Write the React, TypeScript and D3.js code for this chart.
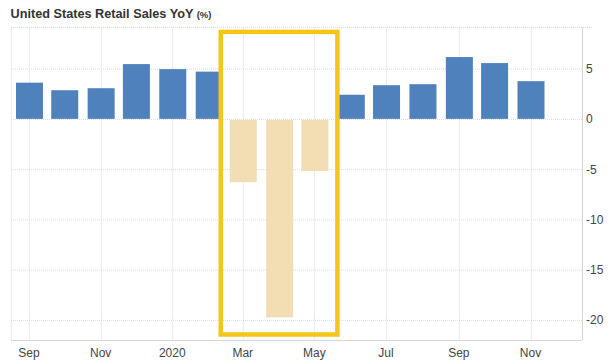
import React, { useEffect, useRef } from 'react';
import * as d3 from 'd3';

// months Sep 2019 .. Nov 2020
const months: string[] = [
    '2019-09', '2019-10', '2019-11', '2019-12', '2020-01', '2020-02', '2020-03',
    '2020-04', '2020-05', '2020-06', '2020-07', '2020-08', '2020-09', '2020-10', '2020-11'
];
const values: number[] = [3.6, 2.85, 3.05, 5.45, 4.95, 4.7, -6.3, -19.75, -5.2, 2.4, 3.35, 3.45, 6.15, 5.55, 3.75];
// highlighted (covid) months
const highlighted: string[] = ['2020-03', '2020-04', '2020-05'];
const yTicks: number[] = [5, 0, -5, -10, -15, -20];
const xTickMonths: string[] = ['2019-09', '2019-11', '2020-01', '2020-03', '2020-05', '2020-07', '2020-09', '2020-11'];
const xTickLabels: string[] = ['Sep', 'Nov', '2020', 'Mar', 'May', 'Jul', 'Sep', 'Nov'];

const parseMonth = d3.timeParse('%Y-%m');

function App() {
    const ref = useRef<SVGSVGElement>(null);

    useEffect(() => {
        const svg = d3.select(ref.current);
        svg.selectAll('*').remove();

        const left = 11, right = 582, top = 27.4, bottom = 340;
        const font = 'Arial, "Liberation Sans", Helvetica, sans-serif';

        const x = d3.scaleTime()
            .domain([parseMonth('2019-09') as Date, parseMonth('2020-11') as Date])
            .range([29, 530.5]);
        const y = d3.scaleLinear().domain([-22, 9.1]).range([bottom, top]);
        const barW = 27;

        // title
        const title = svg.append('text')
            .attr('x', 10.5).attr('y', 18)
            .attr('font-family', font).attr('font-weight', 'bold')
            .attr('font-size', 12.7).attr('fill', '#333');
        title.append('tspan').text('United States Retail Sales YoY ');
        title.append('tspan').attr('font-size', 9.5).text('(%)');

        // grid
        const grid = svg.append('g')
            .attr('stroke', '#dcdcdc').attr('stroke-dasharray', '1,1').attr('fill', 'none');
        grid.selectAll('.hg').data(yTicks).enter().append('line')
            .attr('x1', left).attr('x2', right)
            .attr('y1', d => y(d) + 0.5).attr('y2', d => y(d) + 0.5);
        grid.append('line')
            .attr('x1', left).attr('x2', 592)
            .attr('y1', top).attr('y2', top);
        grid.selectAll('.vg').data(xTickMonths).enter().append('line')
            .attr('x1', d => Math.round(x(parseMonth(d) as Date)) + 0.5)
            .attr('x2', d => Math.round(x(parseMonth(d) as Date)) + 0.5)
            .attr('y1', top).attr('y2', bottom);
        grid.append('line')
            .attr('x1', left + 0.5).attr('x2', left + 0.5)
            .attr('y1', top).attr('y2', bottom);

        // axis lines
        svg.append('line')
            .attr('x1', left).attr('x2', right)
            .attr('y1', bottom + 0.5).attr('y2', bottom + 0.5)
            .attr('stroke', '#d6d6d6');
        svg.append('line')
            .attr('x1', right + 0.5).attr('x2', right + 0.5)
            .attr('y1', top).attr('y2', bottom)
            .attr('stroke', '#d6d6d6');

        // bars
        svg.append('g').selectAll('rect')
            .data(months.map((m, i) => ({ m, v: values[i] })))
            .enter().append('rect')
            .attr('x', d => x(parseMonth(d.m) as Date) - barW / 2 + 0.5)
            .attr('width', barW)
            .attr('y', d => d.v >= 0 ? y(d.v) : y(0) + 1)
            .attr('height', d => d.v >= 0 ? y(0) - y(d.v) : y(d.v) - y(0) - 1)
            .attr('fill', d => highlighted.includes(d.m) ? '#f3deb4' : '#4f81bd');

        // y labels
        svg.append('g').selectAll('text')
            .data(yTicks).enter().append('text')
            .attr('x', 586).attr('y', d => y(d) + 4.5)
            .attr('font-family', font).attr('font-size', 12).attr('fill', '#444')
            .text(d => d);

        // x labels
        svg.append('g').selectAll('text')
            .data(xTickMonths).enter().append('text')
            .attr('x', d => x(parseMonth(d) as Date))
            .attr('y', 356.5)
            .attr('text-anchor', 'middle')
            .attr('font-family', font).attr('font-size', 12).attr('fill', '#444')
            .text((d, i) => xTickLabels[i]);

        // highlight box around the covid months
        const first = x(parseMonth(highlighted[0]) as Date);
        const last = x(parseMonth(highlighted[highlighted.length - 1]) as Date);
        svg.append('rect')
            .attr('x', first - 22).attr('y', top + 4.5)
            .attr('width', last - first + 45)
            .attr('height', bottom - top - 10)
            .attr('fill', 'none').attr('stroke', '#f5c518').attr('stroke-width', 4.5);
    }, []);

    return (
        <svg ref={ref} width="613" height="364"
            style={{ position: 'absolute', left: 0, top: 0, background: '#fff' }}></svg>
    );
}

export default App;
